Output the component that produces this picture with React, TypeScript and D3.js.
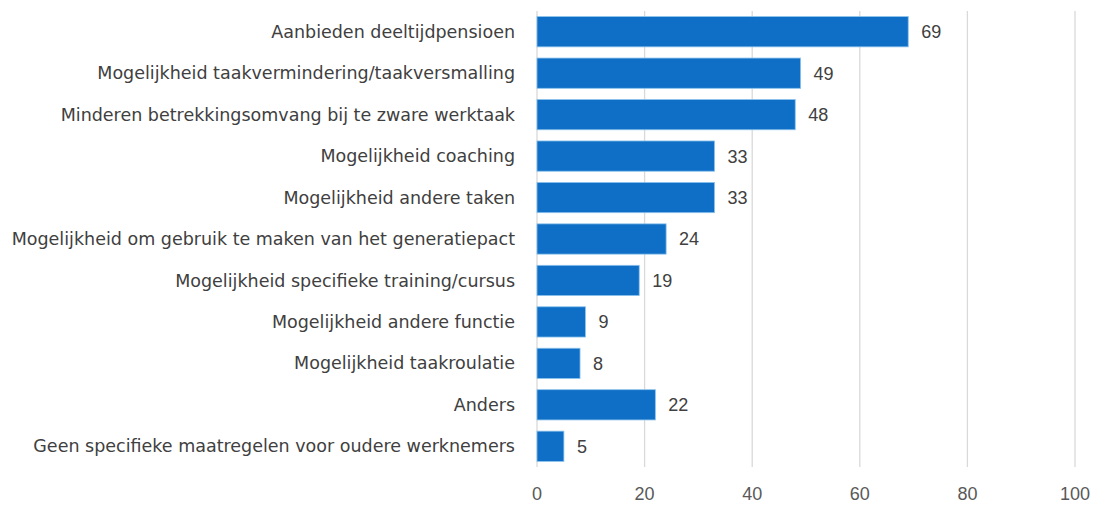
import React from "react";
import * as d3 from "d3";

const categories = [
  "Aanbieden deeltijdpensioen",
  "Mogelijkheid taakvermindering/taakversmalling",
  "Minderen betrekkingsomvang bij te zware werktaak",
  "Mogelijkheid coaching",
  "Mogelijkheid andere taken",
  "Mogelijkheid om gebruik te maken van het generatiepact",
  "Mogelijkheid specifieke training/cursus",
  "Mogelijkheid andere functie",
  "Mogelijkheid taakroulatie",
  "Anders",
  "Geen specifieke maatregelen voor oudere werknemers",
];
const values = [69, 49, 48, 33, 33, 24, 19, 9, 8, 22, 5];
const ticks = [0, 20, 40, 60, 80, 100];

export default function App() {
  const W = 1096, H = 506;
  const left = 537, right = 1075, top = 11, bottom = 467;
  const x = d3.scaleLinear().domain([0, 100]).range([left, right]);
  const y = d3.scaleBand().domain(categories).range([top, bottom]).paddingInner(0.27).paddingOuter(0.135);
  const numFont = "'Liberation Sans', Arial, sans-serif";
  return (
    <svg width={W} height={H} style={{ position: "absolute", left: 0, top: 0, background: "#fff" }}>
      {ticks.map((t) => (
        <line key={t} x1={x(t)} x2={x(t)} y1={top} y2={bottom} stroke="#d9d9d9" strokeWidth={1.3} />
      ))}
      {categories.map((c, i) => (
        <g key={c}>
          <rect x={x(0)} y={y(c)!} width={x(values[i]) - x(0)} height={y.bandwidth()} fill="#0F6FC6" stroke="#8cc2ec" strokeWidth={0.8} />
          <text x={left - 22} y={y(c)! + y.bandwidth() / 2} dy="0.35em" textAnchor="end" fontFamily="'DejaVu Sans', sans-serif" fontSize={17.5} fill="#404040">{c}</text>
          <text x={x(values[i]) + 13} y={y(c)! + y.bandwidth() / 2} dy="0.36em" fontFamily={numFont} fontSize={18} fill="#404040">{values[i]}</text>
        </g>
      ))}
      {ticks.map((t) => (
        <text key={t} x={x(t)} y={494} dy="0.35em" textAnchor="middle" fontFamily={numFont} fontSize={18} fill="#595959">{t}</text>
      ))}
    </svg>
  );
}
